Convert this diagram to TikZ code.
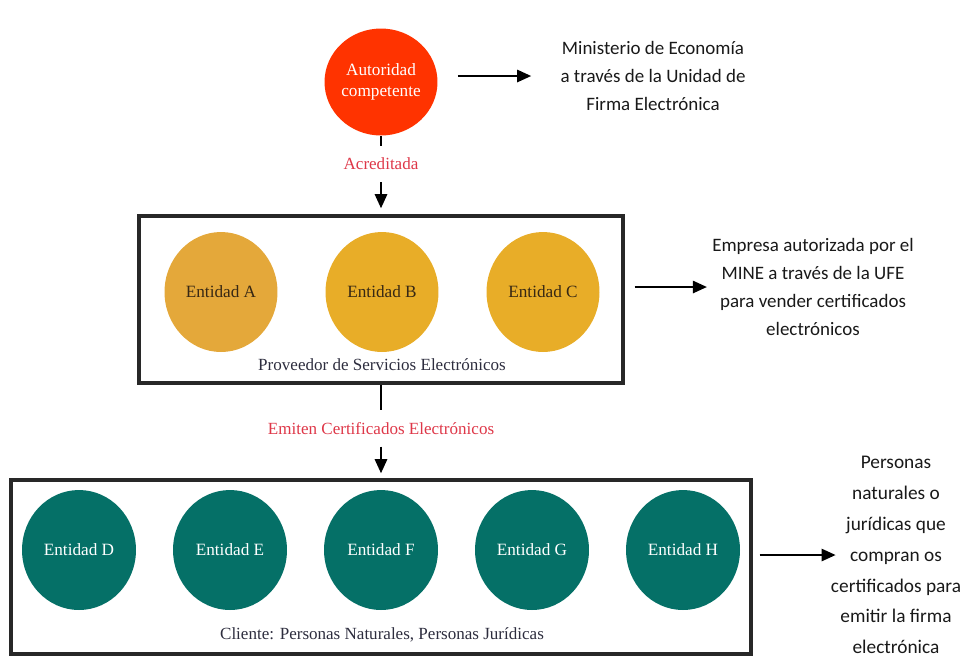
\documentclass[tikz,border=0pt]{standalone}
\usepackage{fontspec}
\setmainfont{Liberation Serif}
\newfontfamily\calibri{Carlito}
\usepackage{xcolor}
\usepackage{tikz}
\usetikzlibrary{shapes.geometric,arrows.meta,positioning,calc}

\definecolor{autred}{RGB}{255,51,0}
\definecolor{entyellowA}{RGB}{228,168,58}
\definecolor{entyellow}{RGB}{232,173,40}
\definecolor{entteal}{RGB}{5,112,103}
\definecolor{labred}{RGB}{222,55,72}
\definecolor{boxgray}{RGB}{40,40,40}
\definecolor{enttext}{RGB}{55,40,20}
\definecolor{grouptext}{RGB}{45,45,62}

\tikzset{>={Triangle[length=8pt,width=7pt]}}
\tikzset{
  entnode/.style={ellipse, inner sep=0pt, minimum width=2.26cm, minimum height=2.4cm,
    font=\fontsize{9.8}{13}\selectfont, align=center},
  groupbox/.style={draw=boxgray, line width=2pt, inner sep=0pt},
  steplabel/.style={text=labred, inner sep=0pt, minimum height=0.71cm,
    font=\fontsize{9.7}{11}\selectfont},
  grouplabel/.style={text=grouptext, font=\fontsize{9.7}{11}\selectfont},
  notetext/.style={inner sep=0pt, align=center, text=black!90},
  conn/.style={line width=1.1pt, black}
}

\begin{document}
\begin{tikzpicture}[x=0.02cm, y=-0.02cm]
			\useasboundingbox (0,0) rectangle (969,664);

			% Autoridad competente
			\node[entnode, fill=autred, text=white, minimum width=2.26cm, minimum height=2.14cm] (aut) at (381,82) {Autoridad\\[-1pt]competente};
			\node[notetext, font=\calibri\fontsize{10.8}{15.9}\selectfont] (mine) at (653,76) {Ministerio de Economía\\a través de la Unidad de\\Firma Electrónica};
			\draw[conn, ->, shorten <=0.4cm, shorten >=0.58cm] (aut.east |- mine.west) -- (mine.west);

			% Acreditada
			\node[steplabel] (acr) at (381,164) {Acreditada};
			\draw[conn] (aut) -- (acr);

			% Proveedor de Servicios Electronicos
			\node[groupbox, minimum width=9.68cm, minimum height=3.34cm] (prov) at (381,299.5) {};
			\node[entnode, fill=entyellowA, text=enttext] (entA) at (221,292) {Entidad A};
			\node[entnode, fill=entyellow, text=enttext] (entB) at (382,292) {Entidad B};
			\node[entnode, fill=entyellow, text=enttext] (entC) at (543,292) {Entidad C};
			\node[grouplabel] (provlab) at (382,365) {Proveedor de Servicios Electrónicos};
			\draw[conn, ->, shorten >=0.12cm] (acr) -- (prov);

			\node[notetext, font=\calibri\fontsize{10.8}{15.9}\selectfont] (emp) at (813,287) {Empresa autorizada por el\\MINE a través de la UFE\\para vender certificados\\electrónicos};
			\draw[conn, ->, shorten <=0.2cm, shorten >=0.1cm] (prov.east |- emp.west) -- (emp.west);

			% Emiten certificados
			\node[steplabel] (emi) at (381,428.5) {Emiten Certificados Electrónicos};
			\draw[conn] (prov) -- (emi);

			% Cliente
			\node[groupbox, minimum width=14.8cm, minimum height=3.48cm] (cli) at (381,567) {};
			\foreach \name/\lab [count=\i from 0] in {entD/D,entE/E,entF/F,entG/G,entH/H}
				\node[entnode, fill=entteal, text=white, minimum width=2.28cm] (\name) at (79+151*\i,550) {Entidad \lab};
			\node[grouplabel] (clilab) at (382,635) {Cliente: Personas Naturales, Personas Jurídicas};
			\draw[conn, ->, shorten >=0.1cm] (emi) -- (cli);

			\node[notetext, font=\calibri\fontsize{11}{17.6}\selectfont] (pers) at (896,555) {Personas\\naturales o\\jurídicas que\\compran os\\certificados para\\emitir la firma\\electrónica};
			\draw[conn, ->, shorten <=0.14cm, shorten >=-0.1cm] (cli.east |- pers.west) -- (pers.west);
		\end{tikzpicture}
\end{document}
